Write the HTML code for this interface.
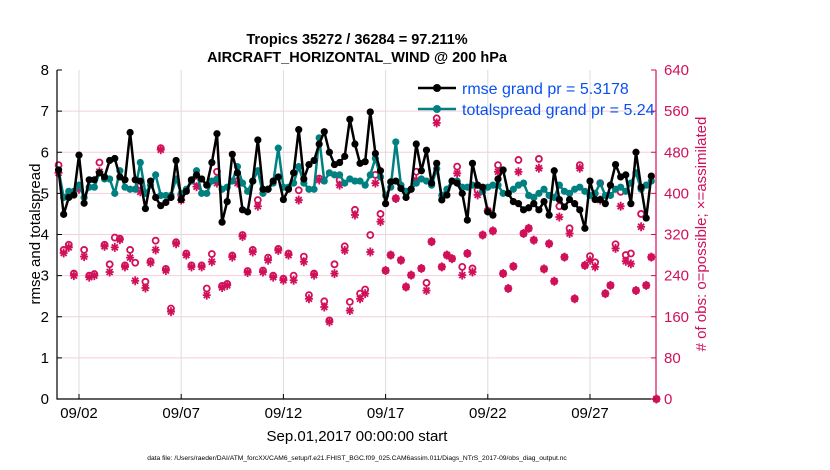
<!DOCTYPE html>
<html><head><meta charset="utf-8"><style>
body{margin:0;background:#fff;}
svg{display:block;font-family:"Liberation Sans",sans-serif;}
</style></head><body>
<svg id="chart" width="830" height="470" viewBox="0 0 830 470">
<text x="357" y="44" text-anchor="middle" font-size="14.5" font-weight="bold">Tropics 35272 / 36284 = 97.211%</text>
<text x="357" y="62" text-anchor="middle" font-size="14.5" font-weight="bold">AIRCRAFT_HORIZONTAL_WIND @ 200 hPa</text>
<g id="grid"></g>
<g id="marks"></g>
<g id="axes"></g>
<text x="40" y="234" transform="rotate(-90 40 234)" text-anchor="middle" font-size="15">rmse and totalspread</text>
<text x="706" y="234" transform="rotate(-90 706 234)" text-anchor="middle" font-size="15" fill="#d1105a"># of obs: o=possible; ×=assimilated</text>
<text x="357" y="441" text-anchor="middle" font-size="15">Sep.01,2017 00:00:00 start</text>
<text x="357" y="460" text-anchor="middle" font-size="6.7">data file: /Users/raeder/DAI/ATM_forcXX/CAM6_setup/f.e21.FHIST_BGC.f09_025.CAM6assim.011/Diags_NTrS_2017-09/obs_diag_output.nc</text>
<g>
<g>
<line x1="418" y1="88" x2="456" y2="88" stroke="#000" stroke-width="2.5"/><circle cx="437" cy="88" r="4" fill="#000"/>
<text x="462" y="94" font-size="16" fill="#0a50f0">rmse grand pr = 5.3178</text></g>
<g>
<line x1="418" y1="109" x2="456" y2="109" stroke="#008080" stroke-width="2.5"/><circle cx="437" cy="109" r="4" fill="#008080"/>
<text x="462" y="115" font-size="16" fill="#0a50f0">totalspread grand pr = 5.24</text></g>
</g>
</svg>
<script>
const rmse=[5.57,4.49,4.9,4.96,5.93,4.76,5.33,5.33,5.5,5.4,5.8,5.85,5.4,5.33,6.48,5.33,5.3,4.63,5.3,4.9,4.7,4.78,4.9,5.8,4.85,5.05,5.33,5.45,
5.35,5.2,5.75,6.45,4.3,4.8,5.95,5.5,4.6,4.55,5.3,6.3,5.1,5.1,5.3,5.4,4.85,5.1,5.5,6.55,5.35,5.7,5.8,6.2,6.5,6.0,5.7,5.75,5.9,
6.8,6.2,5.73,5.77,6.98,5.97,5.55,4.75,5.28,5.3,5.12,4.9,5.1,6.2,5.55,6.05,5.25,5.73,4.84,4.96,5.3,5.25,5.0,4.35,5.73,5.2,5.15,4.55,4.47,5.35,5.57,
5.0,4.8,4.75,4.6,4.65,4.75,4.6,4.8,4.47,5.55,4.85,4.67,4.85,4.75,4.6,4.15,5.3,4.85,4.85,4.75,5.2,5.7,5.4,5.45,4.75,6.0,5.15,4.4,5.42];
const spread=[5.57,4.9,5.05,5.05,5.2,4.9,5.15,5.15,5.5,5.35,5.35,5.0,5.55,5.15,5.1,5.1,5.75,5.0,5.2,5.45,4.95,4.95,4.95,5.35,5.0,5.1,5.3,5.55,
5.0,5.0,5.3,5.35,5.1,5.15,5.3,5.65,5.25,5.05,5.3,5.55,5.0,5.1,5.25,6.1,5.15,5.15,5.25,5.65,5.25,5.1,5.1,6.35,5.3,5.5,5.45,5.45,5.25,
5.35,5.3,5.3,5.2,5.45,5.85,5.4,4.95,5.15,6.25,5.2,5.05,5.1,5.25,5.35,5.3,5.2,5.6,4.95,5.1,5.3,5.3,5.15,5.15,5.2,5.2,5.05,5.15,5.2,5.2,5.0,
5.0,5.1,5.2,5.25,4.95,4.9,5.0,5.1,4.95,4.9,5.2,5.05,5.0,5.1,5.15,5.05,4.95,5.0,5.25,4.95,4.95,5.1,5.15,5.05,5.25,5.5,5.1,5.2,5.3];
const assimilated=[440,284,295,240,408,277,237,240,442,297,247,295,310,257,275,230,403,216,265,290,485,250,170,302,387,280,257,413,
257,202,267,420,217,221,276,420,316,246,286,375,247,270,237,289,231,280,231,387,267,195,241,426,179,150,244,416,289,
172,358,195,205,286,420,345,250,280,390,270,218,241,426,254,211,306,537,257,280,273,439,241,283,247,397,319,366,327,442,
244,215,258,442,322,332,309,449,253,302,229,354,276,322,195,449,260,270,257,387,205,221,293,375,268,263,211,335,221,276,0];
const possible=[455,290,300,244,415,290,240,243,460,300,262,314,312,260,290,265,416,228,268,308,488,253,176,305,397,283,260,423,
260,215,282,442,220,224,279,424,319,249,290,387,250,275,240,292,234,283,240,406,277,202,244,429,190,153,262,426,297,
189,368,205,213,319,436,360,250,280,390,270,218,241,442,254,226,306,546,257,280,273,452,257,283,254,406,319,366,327,455,
244,215,258,465,322,332,309,467,253,302,229,375,276,332,195,455,260,278,266,420,205,221,301,403,280,283,211,360,221,276,0];
const leftTicks=[0,1,2,3,4,5,6,7,8];
const rightTicks=[0,80,160,240,320,400,480,560,640];
const xTickDays=[1,6,11,16,21,26];
const xTickLabels=["09/02","09/07","09/12","09/17","09/22","09/27"];
const stepDays=0.25;

const L=57,R=656,T=70,B=399,day0=58.56,pxDay=20.44;
const xs=d=>day0+d*pxDay;
const yl=v=>B-(v/8)*(B-T);
const yr=n=>B-(n/640)*(B-T);
const NS="http://www.w3.org/2000/svg";
function mk(tag,attrs,parent){const e=document.createElementNS(NS,tag);for(const k in attrs)e.setAttribute(k,attrs[k]);parent.appendChild(e);return e;}
const grid=document.getElementById('grid'),marks=document.getElementById('marks'),axes=document.getElementById('axes');
const RED="#d1105a";
leftTicks.forEach(v=>{if(v>0&&v<8){const g=mk('line',{x1:L,x2:R,y1:yl(v),y2:yl(v),stroke:"#f3cfdc","stroke-width":1},grid);

}});
xTickDays.forEach(d=>{const g=mk('line',{x1:xs(d),x2:xs(d),y1:T,y2:B,stroke:"#dcdcdc","stroke-width":1},grid);

});
assimilated.forEach((n,i)=>{const x=xs(i*stepDays),y=yr(n);
const g=mk('g',{stroke:RED,"stroke-width":1.8},marks);


mk('line',{x1:x-4,x2:x+4,y1:y,y2:y},g);mk('line',{x1:x,x2:x,y1:y-4.5,y2:y+4.5},g);
mk('line',{x1:x-3,x2:x+3,y1:y-3,y2:y+3},g);mk('line',{x1:x-3,x2:x+3,y1:y+3,y2:y-3},g);});
possible.forEach((n,i)=>{const c=mk('circle',{cx:xs(i*stepDays),cy:yr(n),r:3,fill:"none",stroke:RED,"stroke-width":1.8},marks);

});
function series(vals,color,name){
const p=mk('polyline',{points:vals.map((v,i)=>xs(i*stepDays)+","+yl(v)).join(" "),fill:"none",stroke:color,"stroke-width":2.5,"stroke-linejoin":"round"},marks);


vals.forEach((v,i)=>{const c=mk('circle',{cx:xs(i*stepDays),cy:yl(v),r:3.6,fill:color},marks);

});}
series(spread,"#008080","totalspread");
series(rmse,"#000","rmse");
const box=mk('path',{d:`M${L},${T}V${B}H${R}`,fill:"none",stroke:"#000","stroke-width":1.2},axes);


const ra=mk('line',{x1:R,x2:R,y1:T,y2:B,stroke:RED,"stroke-width":1.2},axes);


leftTicks.forEach(v=>{mk('line',{x1:L,x2:L+5,y1:yl(v),y2:yl(v),stroke:"#000"},axes);
const t=mk('text',{x:L-8,y:yl(v)+5,"text-anchor":"end","font-size":15},axes);t.textContent=v;

});
rightTicks.forEach(n=>{mk('line',{x1:R-5,x2:R,y1:yr(n),y2:yr(n),stroke:RED},axes);
const t=mk('text',{x:R+8,y:yr(n)+5,"font-size":15,fill:RED},axes);t.textContent=n;

});
xTickDays.forEach((d,i)=>{mk('line',{x1:xs(d),x2:xs(d),y1:B,y2:B-5,stroke:"#000"},axes);
const t=mk('text',{x:xs(d),y:B+19,"text-anchor":"middle","font-size":15},axes);t.textContent=xTickLabels[i];

});
</script>
</body></html>
